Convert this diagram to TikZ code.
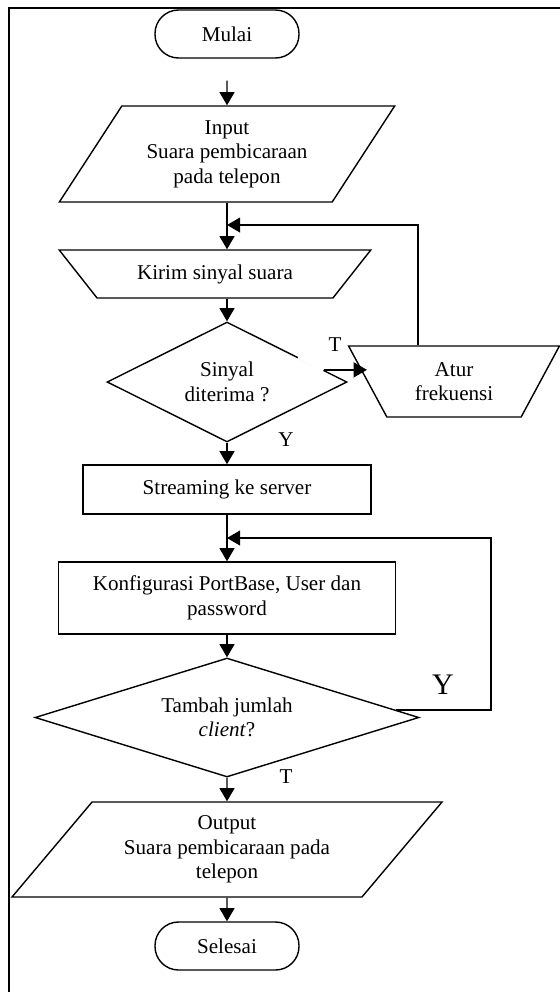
\documentclass[tikz,border=0pt]{standalone}
\usepackage{fontspec}
\setmainfont{Liberation Serif}
\usetikzlibrary{shapes.geometric,arrows.meta,calc}

\begin{document}
\begin{tikzpicture}[x=0.02cm, y=-0.02cm,
        every node/.style={font=\fontsize{12}{14}\selectfont, align=center, inner sep=0pt},
        line/.style={line width=0.8pt},
        arr/.style={line width=0.8pt, -{Triangle[length=7.5pt,width=8.5pt]}},
        term/.style={draw, line width=0.8pt, rounded corners=0.47cm, minimum width=2.88cm, minimum height=0.96cm},
        proc/.style={draw, line width=0.8pt},
        io/.style={draw, line width=0.8pt, trapezium, trapezium stretches},
        decision/.style={draw, line width=0.8pt, diamond}]
    \useasboundingbox (0,0) rectangle (560,992);

    % Frame
    \draw [line width=1.1pt] (9,992) -- (9,8) -- (560,8);

    % Start and input
    \node [term] (mulai) at (227,34) {Mulai};
    \node [io, trapezium left angle=54.7, trapezium right angle=125.3,
        minimum width=6.72cm, minimum height=1.92cm] (input) at (227,154)
        {Input\\Suara pembicaraan\\pada telepon};
    \draw [arr, shorten <=0.44cm] (mulai) -- (input);

    % Sending the signal
    \node [io, trapezium left angle=142.5, trapezium right angle=142.5,
        minimum width=6.24cm, minimum height=0.96cm] (kirim) at (215,274) {Kirim sinyal suara};
    \draw [arr] (input.south) -- (input.south |- kirim.north);

    \node [decision, aspect=2, minimum width=4.8cm, minimum height=2.4cm] (sinyal) at (227,382) {Sinyal\\diterima ?};
    \draw [arr] (kirim.south -| sinyal.north) -- (sinyal.north);

        % Frequency loop
        \node [io, trapezium left angle=120, trapezium right angle=120,
            minimum width=4.24cm, minimum height=1.42cm] (atur) at (454,381.5) {Atur\\frekuensi};
        \coordinate (tout) at ($(sinyal.north)!0.8!(sinyal.east)$);
        \draw [white, line width=2pt] ($(sinyal.north)!0.59!(sinyal.east)$) -- (tout);
        \draw [arr] (tout) -- (atur.west |- tout);
        \coordinate (loop1) at (418,225);
        \draw [arr] (atur.north -| loop1) -- (loop1) -- (loop1 -| input.south);
        \node (t1) at (335,345) {T};
        \node (y1) at (286,440) {Y};

    % Streaming and configuration
    \node [proc, minimum width=5.76cm, minimum height=0.98cm] (stream) at (227,489.5) {Streaming ke server};
    \draw [arr] (sinyal) -- (stream);
    \node [proc, minimum width=6.74cm, minimum height=1.44cm] (konfig) at (227,598)
        {Konfigurasi PortBase, User dan\\password};
    \draw [arr] (stream) -- (konfig);

    \node [decision, aspect=3.2, minimum width=7.68cm, minimum height=2.38cm] (tambah) at (227,717.5)
        {Tambah jumlah\\\textit{client}?};
    \draw [arr] (konfig) -- (tambah);

        % Client loop
        \coordinate (yout) at ($(tambah.north)!0.875!(tambah.east)$);
        \coordinate (loop2) at (491,538);
        \draw [arr] (yout) -- (yout -| loop2) -- (loop2) -- (loop2 -| stream.south);
        \node [font=\fontsize{17}{20}\selectfont] (y2) at (443,685) {Y};
        \node (t2) at (286,777) {T};

    % Output and end
    \node [io, trapezium left angle=47.9, trapezium right angle=132.1,
        minimum width=8.62cm, minimum height=1.9cm] (output) at (227,849.5)
        {Output\\Suara pembicaraan pada\\telepon};
    \draw [arr] (tambah) -- (output);
    \node [term] (selesai) at (227,946) {Selesai};
    \draw [arr] (output) -- (selesai);
\end{tikzpicture}
\end{document}
